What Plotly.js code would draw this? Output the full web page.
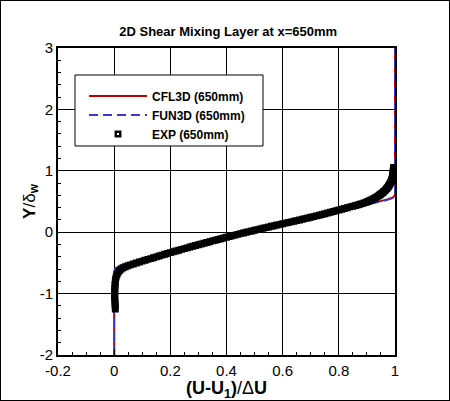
<!DOCTYPE html>
<html>
<head>
<meta charset="utf-8">
<script src="https://cdn.plot.ly/plotly-3.0.1.min.js"></script>
<style>
html,body{margin:0;padding:0;background:#fff;}
#wrap{position:relative;width:450px;height:401px;}
#chart{width:450px;height:401px;}
#frame{position:absolute;left:0;top:0;width:450px;height:401px;box-sizing:border-box;border:1px solid #000;pointer-events:none;}
</style>
</head>
<body>
<div id="wrap"><div id="chart"></div><div id="frame"></div></div>
<script>
// ---- data ----
const cfl3dX = [0, 0, 0.003, 0.009, 0.02, 0.035, 0.055, 0.08, 0.10, 0.15, 0.20, 0.30, 0.40, 0.50, 0.60, 0.70, 0.80, 0.85, 0.874, 0.934, 0.97, 0.993, 0.998, 1.0, 1.0];
const cfl3dY = [-2, -0.66, -0.61, -0.58, -0.56, -0.54, -0.515, -0.49, -0.468, -0.40, -0.335, -0.205, -0.082, 0.032, 0.14, 0.25, 0.36, 0.405, 0.43, 0.49, 0.53, 0.565, 0.59, 0.62, 3];

const fun3dX = [0, 0, 0.004, 0.012, 0.022, 0.037, 0.056, 0.08, 0.10, 0.15, 0.20, 0.30, 0.40, 0.50, 0.60, 0.70, 0.80, 0.85, 0.874, 0.934, 0.97, 0.993, 0.998, 1.0, 1.0];
const fun3dY = [-2, -0.64, -0.59, -0.565, -0.548, -0.53, -0.51, -0.487, -0.466, -0.40, -0.335, -0.205, -0.082, 0.032, 0.14, 0.25, 0.36, 0.403, 0.425, 0.482, 0.522, 0.558, 0.585, 0.61, 3];

const expX = [0.004, 0.004, 0.003, 0.003, 0.002, 0.002, 0.002, 0.002, 0.002, 0.003, 0.003, 0.004, 0.005, 0.007, 0.010, 0.014, 0.019, 0.025, 0.032, 0.040, 0.049, 0.058, 0.068, 0.079, 0.090, 0.10,
  0.11, 0.12, 0.13, 0.14, 0.15, 0.16, 0.17, 0.18, 0.19, 0.20, 0.21, 0.22, 0.23, 0.24, 0.25, 0.26, 0.27, 0.28, 0.29, 0.30,
  0.31, 0.32, 0.33, 0.34, 0.35, 0.36, 0.37, 0.38, 0.39, 0.40, 0.41, 0.42, 0.43, 0.44, 0.45, 0.46, 0.47, 0.48, 0.49, 0.50,
  0.51, 0.52, 0.53, 0.54, 0.55, 0.56, 0.57, 0.58, 0.59, 0.60, 0.61, 0.62, 0.63, 0.64, 0.65, 0.66, 0.67, 0.68, 0.69, 0.70,
  0.71, 0.72, 0.73, 0.74, 0.75, 0.76, 0.77, 0.78, 0.79, 0.80, 0.81, 0.82, 0.83, 0.84, 0.85, 0.86,
  0.868, 0.875, 0.883, 0.89, 0.897, 0.903, 0.909, 0.915, 0.921, 0.926, 0.931, 0.936, 0.941, 0.945, 0.949, 0.953, 0.957, 0.960, 0.964, 0.967, 0.970, 0.973, 0.976, 0.978, 0.980, 0.982, 0.984, 0.986, 0.988, 0.989, 0.990, 0.991, 0.992, 0.992, 0.993, 0.993, 0.994, 0.994, 0.994, 0.995, 0.995];
const expY = [-1.25, -1.21, -1.17, -1.13, -1.09, -1.05, -1.01, -0.97, -0.93, -0.89, -0.85, -0.81, -0.77, -0.73, -0.69, -0.655, -0.625, -0.60, -0.58, -0.563, -0.547, -0.532, -0.517, -0.501, -0.486, -0.471,
  -0.457, -0.443, -0.430, -0.416, -0.402, -0.388, -0.374, -0.360, -0.346, -0.332, -0.319, -0.306, -0.293, -0.280, -0.268, -0.255, -0.242, -0.229, -0.216, -0.204,
  -0.191, -0.179, -0.167, -0.155, -0.142, -0.130, -0.118, -0.106, -0.094, -0.082, -0.070, -0.059, -0.047, -0.036, -0.024, -0.013, -0.001, 0.010, 0.020, 0.031,
  0.042, 0.053, 0.064, 0.075, 0.085, 0.096, 0.106, 0.117, 0.127, 0.137, 0.148, 0.158, 0.168, 0.178, 0.188, 0.199, 0.210, 0.221, 0.232, 0.243,
  0.254, 0.266, 0.277, 0.289, 0.301, 0.313, 0.325, 0.337, 0.350, 0.362, 0.374, 0.387, 0.399, 0.412, 0.423, 0.435,
  0.445, 0.455, 0.466, 0.477, 0.488, 0.500, 0.512, 0.525, 0.537, 0.550, 0.563, 0.577, 0.591, 0.605, 0.619, 0.633, 0.647, 0.662, 0.677, 0.693, 0.709, 0.725, 0.741, 0.757, 0.773, 0.790, 0.807, 0.825, 0.842, 0.860, 0.877, 0.895, 0.912, 0.930, 0.947, 0.965, 0.982, 1.000, 1.018, 1.035, 1.053, 1.070, 1.085, 1.100];

const xTickVals = [-0.2, 0, 0.2, 0.4, 0.6, 0.8, 1];
const xTickText = ['-0.2', '0', '0.2', '0.4', '0.6', '0.8', '1'];
const yTickVals = [-2, -1, 0, 1, 2, 3];
const yTickText = ['-2', '-1', '0', '1', '2', '3'];

const FONT = '"Liberation Sans", Arial, Helvetica, sans-serif';

const traces = [
  {x: cfl3dX, y: cfl3dY, mode: 'lines', name: 'CFL3D (650mm)',
   line: {color: '#c00000', width: 2}},
  {x: fun3dX, y: fun3dY, mode: 'lines', name: 'FUN3D (650mm)',
   line: {color: '#3a3ad8', width: 2, dash: '9px,5px'}},
  {x: expX, y: expY, mode: 'markers', name: 'EXP (650mm)',
   marker: {symbol: 'square-open', size: 4.5, color: '#000', line: {width: 2.4, color: '#000'}}}
];

const axisCommon = {
  showline: true, linecolor: '#000', linewidth: 2, mirror: true,
  showgrid: true, gridcolor: '#000', gridwidth: 1,
  zeroline: false,
  ticks: 'inside', ticklen: 6, tickwidth: 1, tickcolor: '#000',
  tickfont: {family: FONT, size: 15, color: '#000'},
  tickmode: 'array'
};

const layout = {
  width: 450, height: 401,
  margin: {l: 58, r: 55, t: 48, b: 46},
  paper_bgcolor: '#fff', plot_bgcolor: '#fff',
  font: {family: FONT, color: '#000'},
  showlegend: true,
  title: {text: '2D Shear Mixing Layer at x=650mm', x: 0.505, xref: 'paper', xanchor: 'center',
          y: 1 - 31 / 401, yref: 'container', yanchor: 'middle',
          font: {family: FONT, size: 13, color: '#000', weight: 'bold'}},
  xaxis: Object.assign({}, axisCommon, {
    range: [-0.2, 1], tickvals: xTickVals, ticktext: xTickText,
    ticklabelstandoff: 1,
    minor: {dtick: 0.05, ticks: 'inside', ticklen: 3, tickcolor: '#000', showgrid: false},
    title: {text: '<b>(U-U<sub>1</sub>)</b>/Δ<b>U</b>', standoff: 12,
            font: {family: FONT, size: 18, color: '#000'}}
  }),
  yaxis: Object.assign({}, axisCommon, {
    range: [-2, 3], tickvals: yTickVals, ticktext: yTickText,
    ticklabelstandoff: 0,
    minor: {dtick: 0.2, ticks: 'inside', ticklen: 3, tickcolor: '#000', showgrid: false},
    title: {text: '<b>Y</b>/δ<sub><b>w</b></sub>', standoff: 0,
            font: {family: FONT, size: 17, color: '#000'}}
  }),
  shapes: [{type: 'rect', xref: 'paper', yref: 'paper', layer: 'above',
            x0: (75 - 58) / 337, x1: (263 - 58) / 337, y0: (355 - 146) / 307, y1: (355 - 75) / 307,
            fillcolor: '#fff', line: {color: '#000', width: 1}}],
  legend: {x: (84 - 58) / 337, xanchor: 'left', y: (355 - 115) / 307, yanchor: 'middle',
           bgcolor: 'rgba(0,0,0,0)', borderwidth: 0, itemwidth: 58,
           font: {family: FONT, size: 12, color: '#000', weight: 'bold'}}
};

Plotly.newPlot('chart', traces, layout, {staticPlot: true, displayModeBar: false});
</script>
</body>
</html>
